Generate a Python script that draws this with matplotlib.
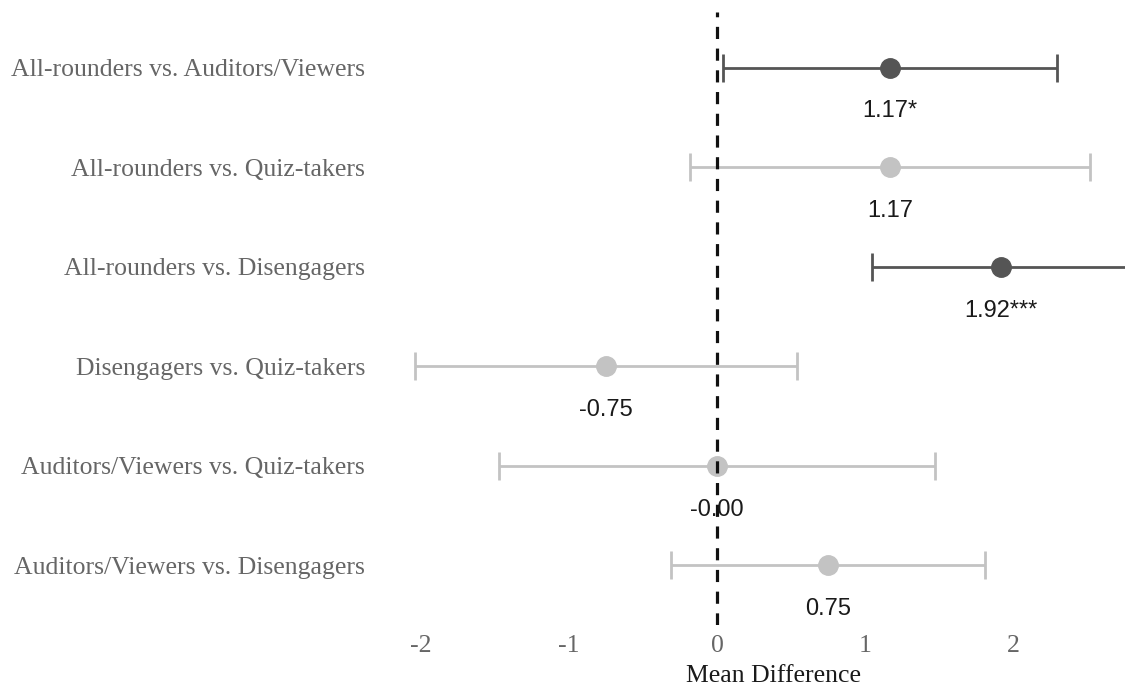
import numpy as np
import matplotlib.pyplot as plt

# Pairwise comparisons (top to bottom) with mean differences and 95% CIs
comparisons = [
    "All-rounders vs. Auditors/Viewers",
    "All-rounders vs. Quiz-takers",
    "All-rounders vs. Disengagers",
    "Disengagers vs. Quiz-takers",
    "Auditors/Viewers vs. Quiz-takers",
    "Auditors/Viewers vs. Disengagers",
]
mean_diff = [1.17, 1.17, 1.92, -0.75, -0.00, 0.75]
ci_lower = [0.04, -0.18, 1.05, -2.04, -1.47, -0.31]
ci_upper = [2.30, 2.52, 2.79, 0.54, 1.47, 1.81]
stars = ["*", "", "***", "", "", ""]

x_ticks = [-2, -1, 0, 1, 2]

sig_color = "#555555"
ns_color = "#c3c3c3"

plt.rcParams["font.family"] = ["Liberation Serif", "DejaVu Serif"]

fig = plt.figure(figsize=(11.25, 6.86), dpi=100)
ax = fig.add_axes([381 / 1125, 1 - 625 / 686, (1125 - 381) / 1125, (625 - 12) / 686])

n = len(comparisons)
ypos = np.arange(n)[::-1]

for y, m, lo, hi, s in zip(ypos, mean_diff, ci_lower, ci_upper, stars):
    col = sig_color if s else ns_color
    ax.errorbar(m, y, xerr=[[m - lo], [hi - m]], fmt="o", color=col,
                ecolor=col, elinewidth=2.0, capsize=10, capthick=2.0,
                markersize=14, zorder=2)
    ax.annotate(f"{m:.2f}{s}", xy=(m, y), xytext=(0, -31.5),
                textcoords="offset points", ha="center", va="center",
                fontsize=17, color="#1a1a1a",
                family=["Liberation Sans", "DejaVu Sans"], zorder=4)

ax.axvline(0, color="#111111", linewidth=2.3, linestyle=(0, (3.8, 3.0)), zorder=3)

ax.set_xlim(-2.27, 2.757)
ax.set_ylim(-0.6, n - 1 + 0.56)
ax.set_yticks(ypos)
ax.set_yticklabels(comparisons)
ax.set_xticks(x_ticks)
ax.set_xticklabels([str(t) for t in x_ticks])
ax.tick_params(axis="y", length=0, pad=11.5, labelsize=18.5, labelcolor="#666666")
ax.tick_params(axis="x", length=0, pad=7, labelsize=18.5, labelcolor="#666666")
ax.set_xlabel("Mean Difference", fontsize=18.5, color="#1a1a1a")
ax.xaxis.set_label_coords(0.527, -0.065)

for spine in ax.spines.values():
    spine.set_visible(False)

fig.savefig("out.png", dpi=100)
